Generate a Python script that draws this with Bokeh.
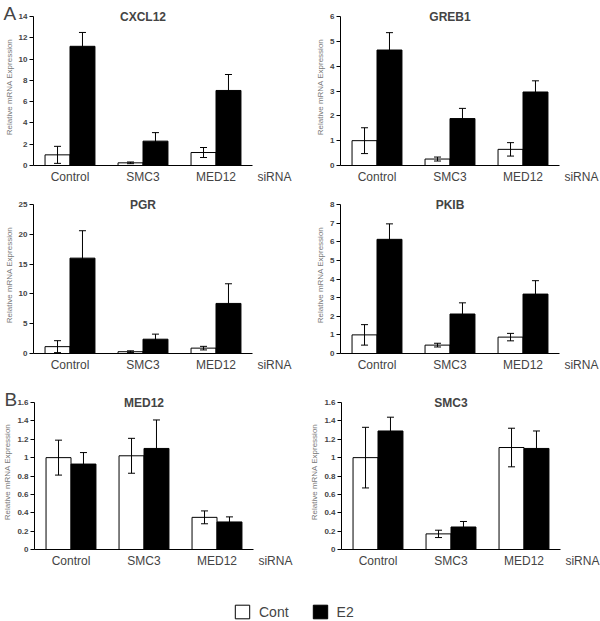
from bokeh.plotting import figure
from bokeh.models import (ColumnDataSource, Whisker, TeeHead, FixedTicker, PrintfTickFormatter,
                          Range1d, LinearAxis, Label, Legend, LegendItem, Title)
from bokeh.layouts import column, row
from bokeh.embed import file_html
from bokeh.resources import INLINE

# ---------------- data ----------------
categories = ["Control", "SMC3", "MED12"]

cxcl12_cont = [1.0, 0.25, 1.22]
cxcl12_cont_err = [0.8, 0.08, 0.47]
cxcl12_e2 = [11.2, 2.29, 7.05]
cxcl12_e2_err = [1.3, 0.8, 1.5]
cxcl12_ticks = [0, 2, 4, 6, 8, 10, 12, 14]

greb1_cont = [1.0, 0.26, 0.65]
greb1_cont_err = [0.52, 0.08, 0.27]
greb1_e2 = [4.65, 1.89, 2.96]
greb1_e2_err = [0.7, 0.41, 0.45]
greb1_ticks = [0, 1, 2, 3, 4, 5, 6]

pgr_cont = [1.15, 0.3, 0.9]
pgr_cont_err = [1.0, 0.15, 0.3]
pgr_e2 = [16.0, 2.4, 8.4]
pgr_e2_err = [4.6, 0.85, 3.3]
pgr_ticks = [0, 5, 10, 15, 20, 25]

pkib_cont = [1.0, 0.45, 0.88]
pkib_cont_err = [0.55, 0.1, 0.2]
pkib_e2 = [6.13, 2.12, 3.19]
pkib_e2_err = [0.83, 0.6, 0.72]
pkib_ticks = [0, 1, 2, 3, 4, 5, 6, 7, 8]

med12_cont = [1.0, 1.02, 0.35]
med12_cont_err = [0.19, 0.19, 0.07]
med12_e2 = [0.93, 1.1, 0.30]
med12_e2_err = [0.125, 0.31, 0.055]

smc3_cont = [1.0, 0.17, 1.11]
smc3_cont_err = [0.33, 0.04, 0.21]
smc3_e2 = [1.29, 0.245, 1.10]
smc3_e2_err = [0.15, 0.06, 0.19]

b_ticks = [0, 0.2, 0.4, 0.6, 0.8, 1.0, 1.2, 1.4, 1.6]

series_labels = ["Cont", "E2"]
axis_title = "Relative mRNA Expression"
xaxis_extra = "siRNA"

# ---------------- style ----------------
FONT = "Liberation Sans"
BAR_W = 0.342
CAT_PX = 73          # pixels per category
TOP_PAD = 8          # frame pixels above the top tick (room for the gene name)

legend_sources = {}


def panel(title, cont, cont_err, e2, e2_err, ticks, letter=None, side="left",
          top=0, bottom=30, data_h=149):
    n = len(categories)
    xc = [i + 0.5 - BAR_W / 2 for i in range(n)]
    xe = [i + 0.5 + BAR_W / 2 for i in range(n)]
    src = ColumnDataSource(dict(
        xc=xc, xe=xe,
        cont=cont,
        cont_up=[v + e for v, e in zip(cont, cont_err)],
        cont_lo=[max(v - e, 0) for v, e in zip(cont, cont_err)],
        e2=e2,
        e2_up=[v + e for v, e in zip(e2, e2_err)],
        e2_lo=[max(v - e, 0) for v, e in zip(e2, e2_err)],
    ))
    legend_sources.setdefault("src", src)
    ymax = ticks[-1]
    if side == "left":
        lb, rb, fw, extra_x = 33, 4, 263, 3.3
    else:
        lb, rb, fw, extra_x = 40, 1, 259, 3.3
    fh = data_h + TOP_PAD
    p = figure(x_range=Range1d(0, fw / CAT_PX),
               y_range=Range1d(0, ymax * fh / data_h),
               frame_width=fw, frame_height=fh,
               min_border_left=lb, min_border_right=rb,
               min_border_top=top, min_border_bottom=bottom,
               output_backend="svg", toolbar_location=None)
    p.outline_line_color = None
    p.grid.visible = False

    p.vbar(x="xc", top="cont", width=BAR_W, source=src, fill_color="white",
           line_color="black", line_width=1)
    p.vbar(x="xe", top="e2", width=BAR_W, source=src, fill_color="black",
           line_color="black", line_width=1)

    for base, up, lo in (("xc", "cont_up", "cont_lo"), ("xe", "e2_up", "e2_lo")):
        w = Whisker(source=src, base=base, upper=up, lower=lo, line_color="black", line_width=1,
                    upper_head=TeeHead(size=7, line_color="black", line_width=1),
                    lower_head=TeeHead(size=7, line_color="black", line_width=1),
                    level="annotation")
        p.add_layout(w)

    # y axis
    ya = p.yaxis[0]
    ya.ticker = FixedTicker(ticks=ticks)
    ya.bounds = (0, ymax)
    ya.formatter = PrintfTickFormatter(format="%g")
    ya.axis_line_color = "black"
    ya.major_tick_out = 4
    ya.major_tick_in = 0
    ya.minor_tick_line_color = None
    ya.major_label_text_font = FONT
    ya.major_label_text_font_size = "8px"
    ya.major_label_text_font_style = "bold"
    ya.major_label_standoff = 2
    ya.axis_label = axis_title
    ya.axis_label_text_font = FONT
    ya.axis_label_text_font_size = "8px"
    ya.axis_label_text_font_style = "normal"
    ya.axis_label_text_color = "#7a7a7a"
    ya.axis_label_standoff = 2

    # x axis line (bounded to the three categories)
    xa = p.xaxis[0]
    xa.bounds = (0, n)
    xa.ticker = FixedTicker(ticks=[])
    xa.axis_line_color = "black"
    xa.major_tick_out = 0
    xa.major_tick_in = 0
    xa.minor_tick_line_color = None
    xa.major_label_text_font_size = "0px"

    # category labels + "siRNA"
    tick_pos = [i + 0.5 for i in range(n)] + [extra_x]
    tick_txt = categories + [xaxis_extra]
    xl = LinearAxis(ticker=FixedTicker(ticks=tick_pos),
                    major_label_overrides=dict(zip(tick_pos, tick_txt)))
    xl.axis_line_color = None
    xl.major_tick_line_color = None
    xl.minor_tick_line_color = None
    xl.major_tick_out = 0
    xl.major_tick_in = 0
    xl.major_label_text_font = FONT
    xl.major_label_text_font_size = "12px"
    xl.major_label_standoff = 4
    p.add_layout(xl, "below")

    # gene name inside the frame
    p.add_layout(Label(x=1.5, y=ymax, text=title, text_align="center", text_baseline="middle",
                       y_offset=0, text_font=FONT, text_font_size="12px",
                       text_font_style="bold"))
    if letter:
        p.add_layout(Title(text=letter, align="left", offset=-30, standoff=-30,
                           vertical_align="bottom", text_font=FONT, text_font_size="19px",
                           text_font_style="normal"), "above")
    return p


f1 = panel("CXCL12", cxcl12_cont, cxcl12_cont_err, cxcl12_e2, cxcl12_e2_err, cxcl12_ticks,
           letter="A", side="left", top=8, bottom=31)
f2 = panel("GREB1", greb1_cont, greb1_cont_err, greb1_e2, greb1_e2_err, greb1_ticks,
           side="right", top=8, bottom=31)
f3 = panel("PGR", pgr_cont, pgr_cont_err, pgr_e2, pgr_e2_err, pgr_ticks,
           side="left", top=0, bottom=37)
f4 = panel("PKIB", pkib_cont, pkib_cont_err, pkib_e2, pkib_e2_err, pkib_ticks,
           side="right", top=0, bottom=37)
f5 = panel("MED12", med12_cont, med12_cont_err, med12_e2, med12_e2_err, b_ticks,
           letter="B", side="left", top=4, bottom=25, data_h=147)
f6 = panel("SMC3", smc3_cont, smc3_cont_err, smc3_e2, smc3_e2_err, b_ticks,
           side="right", top=4, bottom=25, data_h=147)

# ---------------- legend ----------------
leg = figure(width=600, height=46, min_border=0, output_backend="svg", toolbar_location=None,
             x_range=Range1d(0, 3), y_range=Range1d(0, 1),
             x_axis_location=None, y_axis_location=None)
leg.outline_line_color = None
leg.grid.visible = False
src0 = legend_sources["src"]
lr1 = leg.vbar(x="xc", top="cont", width=BAR_W, source=src0, fill_color="white",
               line_color="black", line_width=1, visible=False)
lr2 = leg.vbar(x="xe", top="e2", width=BAR_W, source=src0, fill_color="black",
               line_color="black", line_width=1, visible=False)
legend = Legend(items=[LegendItem(label=series_labels[0], renderers=[lr1]),
                       LegendItem(label=series_labels[1], renderers=[lr2])],
                orientation="horizontal", location=(233, 0), glyph_width=18, glyph_height=17,
                label_text_font=FONT, label_text_font_size="14px", label_standoff=8,
                spacing=22, padding=0, margin=0, border_line_color=None,
                background_fill_alpha=0, label_height=17)
leg.add_layout(legend)

layout = column(row(f1, f2), row(f3, f4), row(f5, f6), leg)

open("out.html", "w").write(file_html(layout, INLINE))
